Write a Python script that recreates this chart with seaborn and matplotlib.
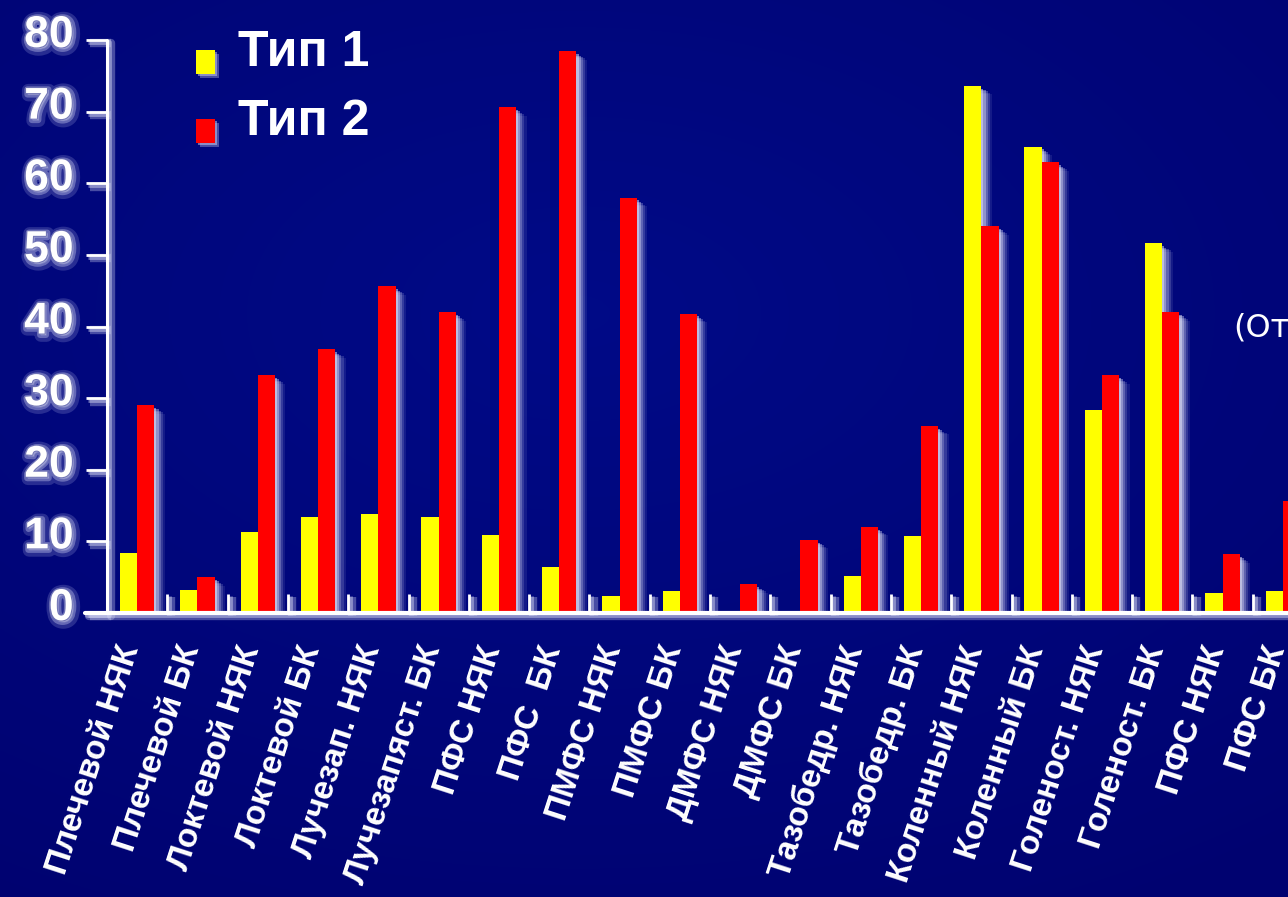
import numpy as np
import pandas as pd
import matplotlib
matplotlib.use("Agg")
import matplotlib.pyplot as plt
import matplotlib.patheffects as pe
from matplotlib.lines import Line2D
from matplotlib.transforms import ScaledTranslation, blended_transform_factory
import seaborn as sns

# ---- data -------------------------------------------------------------
categories = [
    "Плечевой НЯК", "Плечевой БК", "Локтевой НЯК", "Локтевой БК",
    "Лучезап. НЯК", "Лучезапяст. БК", "ПФС НЯК", "ПФС  БК",
    "ПМФС НЯК", "ПМФС БК", "ДМФС НЯК", "ДМФС БК",
    "Тазобедр. НЯК", "Тазобедр. БК", "Коленный НЯК", "Коленный БК",
    "Голеност. НЯК", "Голеност. БК", "ПФС НЯК", "ПФС БК",
]
type1 = [8.4, 3.2, 11.3, 13.4, 13.8, 13.4, 10.9, 6.4, 2.4, 3.1,
         0.0, 0.0, 5.2, 10.7, 73.6, 65.1, 28.3, 51.6, 2.8, 3.1]
type2 = [29.0, 5.0, 33.2, 36.8, 45.6, 42.0, 70.6, 78.4, 58.0, 41.8,
         4.0, 10.2, 12.0, 26.1, 54.0, 62.9, 33.2, 42.0, 8.2, 15.6]
series_names = ["Тип 1", "Тип 2"]
series_colors = ["#ffff00", "#ff0000"]
y_ticks = [0, 10, 20, 30, 40, 50, 60, 70, 80]
side_note = "(От"

# ---- style ------------------------------------------------------------
sns.set_style("white")
plt.rcParams["font.family"] = ["Liberation Sans", "DejaVu Sans"]

W, H = 1288, 897
fig = plt.figure(figsize=(W / 100, H / 100), dpi=100)

# navy gradient backdrop
bg = fig.add_axes([0, 0, 1, 1], zorder=-10)
yy, xx = np.mgrid[0:1:300j, 0:1:430j]
d = np.sqrt(((xx - 0.45) / 1.0) ** 2 + ((yy - 0.35) / 0.85) ** 2)
f = np.clip(1 - d / 0.9, 0, 1)
img = np.dstack([0.0 * f, 0.01 + 0.03 * f, 0.44 + 0.09 * f])
bg.imshow(img, aspect="auto", extent=[0, 1, 0, 1], origin="upper",
          interpolation="bicubic")
bg.axis("off")

# plotting area (right part runs past the figure edge)
ax = fig.add_axes([107 / W, (H - 613) / H, 1206 / W, 573 / H])
ax.set_facecolor("none")

df = pd.DataFrame({
    "pos": np.tile(np.arange(len(categories)), 2),
    "value": type1 + type2,
    "series": np.repeat(series_names, len(categories)),
})
sns.barplot(data=df, x="pos", y="value", hue="series", hue_order=series_names,
            palette=series_colors, width=0.57, saturation=1, linewidth=0,
            errorbar=None, ax=ax)

ax.set_xlim(-0.5, len(categories) - 0.5)
ax.set_ylim(0, 80)
ax.set_xlabel("")
ax.set_ylabel("")
for s in ax.spines.values():
    s.set_visible(False)

# soft light glow to the lower right of every bar
glow = "#cdd0ef"
bar_fx = [
    pe.SimplePatchShadow(offset=(7.5, -6), shadow_rgbFace=glow, alpha=0.1),
    pe.SimplePatchShadow(offset=(6, -5), shadow_rgbFace=glow, alpha=0.18),
    pe.SimplePatchShadow(offset=(4.5, -4), shadow_rgbFace=glow, alpha=0.28),
    pe.SimplePatchShadow(offset=(3, -3), shadow_rgbFace="#dadcf4", alpha=0.4),
    pe.SimplePatchShadow(offset=(1.5, -2), shadow_rgbFace="#e6e7f8", alpha=0.5),
    pe.Normal(),
]
for p in ax.patches:
    p.set_path_effects(bar_fx)

line_fx = [
    pe.SimpleLineShadow(offset=(3, -2.5), shadow_color=glow, alpha=0.35, linewidth=6),
    pe.SimpleLineShadow(offset=(1.5, -1.5), shadow_color=glow, alpha=0.5, linewidth=3.5),
    pe.Normal(),
]

# axis lines
ax.add_line(Line2D([0, 0], [0, 1], transform=ax.transAxes, color="white",
                   lw=2.2, clip_on=False, path_effects=line_fx, zorder=5))
base_tr = blended_transform_factory(ax.transAxes, ax.transData)
ax.add_line(Line2D([-22 / 1206, 1.02], [0, 0], transform=base_tr, color="white",
                   lw=3, clip_on=False, path_effects=line_fx, zorder=5))

# y axis ticks and labels
ax.set_yticks(y_ticks)
ax.set_yticklabels([str(v) for v in y_ticks])
ax.tick_params(axis="y", which="major", left=True, direction="out", length=15,
               width=2, color="white", pad=9, labelsize=32, labelcolor="white")
num_fx = [
    pe.Stroke(linewidth=9, foreground="#9da1da", alpha=0.25, offset=(1.5, -1.5)),
    pe.Stroke(linewidth=4.5, foreground="#c4c7ee", alpha=0.4, offset=(1, -1)),
    pe.Stroke(linewidth=1.6, foreground="#6e72b4", alpha=0.9),
    pe.Normal(),
]
lift = ScaledTranslation(0, 0.09, fig.dpi_scale_trans)
for lbl in ax.get_yticklabels():
    lbl.set_fontweight("bold")
    lbl.set_path_effects(num_fx)
    lbl.set_transform(lbl.get_transform() + lift)
for t in ax.yaxis.get_major_ticks():
    t.tick1line.set_path_effects(line_fx)

# x axis: separators between groups, rotated category names
ax.set_xticks(np.arange(len(categories)))
ax.set_xticklabels(categories, rotation=72, ha="right", va="center",
                   rotation_mode="anchor", fontsize=24, fontweight="bold",
                   color="white")
ax.tick_params(axis="x", which="major", bottom=True, length=0, pad=24)
ax.set_xticks(np.arange(len(categories)) + 0.5, minor=True)
ax.tick_params(axis="x", which="minor", bottom=True, direction="in", length=14,
               width=2, color="white")
for t in ax.xaxis.get_minor_ticks():
    t.tick1line.set_path_effects(line_fx)
nudge = ScaledTranslation(-0.06, 0, fig.dpi_scale_trans)
for lbl in ax.get_xticklabels():
    lbl.set_transform(lbl.get_transform() + nudge)

# legend
handles, labels = ax.get_legend_handles_labels()
if ax.get_legend() is not None:
    ax.get_legend().remove()
leg = fig.legend(handles, labels, loc="upper left",
                 bbox_to_anchor=(196 / W, 1 - 30 / H), frameon=False,
                 prop={"size": 36, "weight": "bold"}, labelcolor="white",
                 handlelength=0.38, handleheight=0.38, handletextpad=0.45,
                 labelspacing=0.46, borderpad=0, borderaxespad=0)
sq_fx = [
    pe.SimplePatchShadow(offset=(3, -3), shadow_rgbFace=glow, alpha=0.35),
    pe.SimplePatchShadow(offset=(1.5, -1.5), shadow_rgbFace=glow, alpha=0.5),
    pe.Normal(),
]
for h in leg.legend_handles:
    h.set_y(h.get_y() - 10)
    h.set_path_effects(sq_fx)

# note at the right edge
fig.text(1233 / W, 1 - 328 / H, side_note, fontsize=23, color="white",
         family=["DejaVu Sans"], va="center", ha="left")

fig.savefig("out.png", dpi=100)
